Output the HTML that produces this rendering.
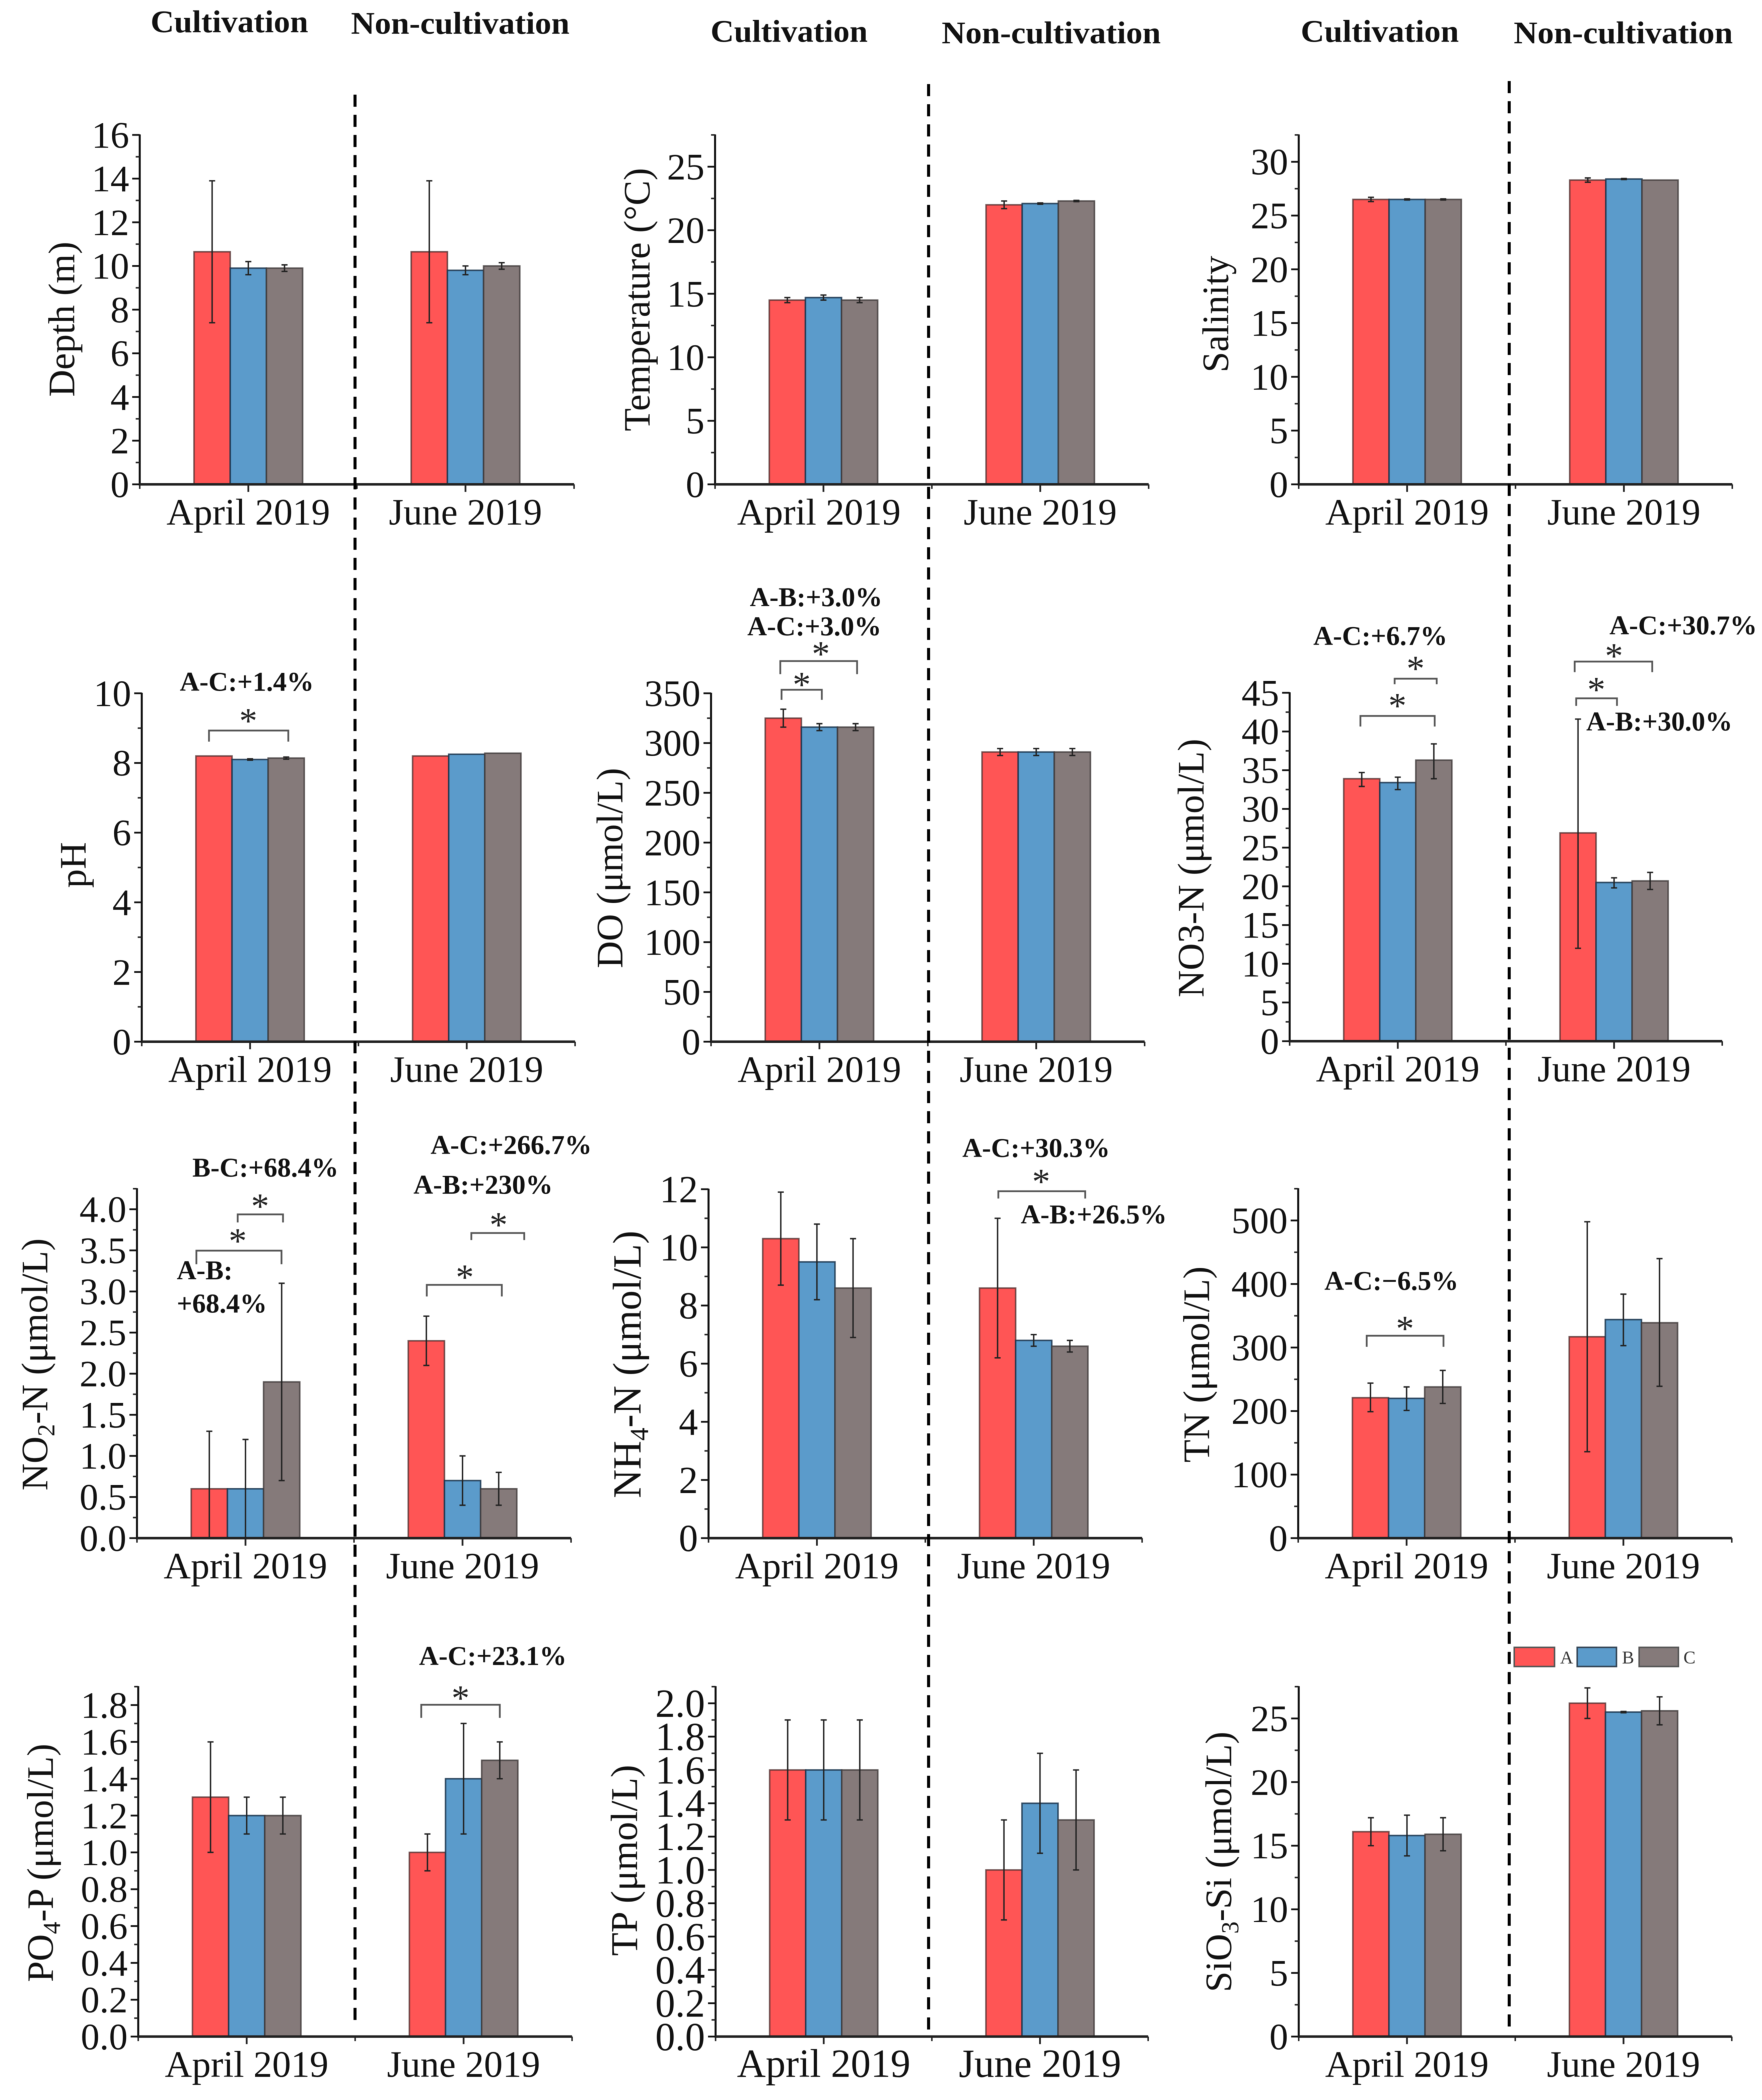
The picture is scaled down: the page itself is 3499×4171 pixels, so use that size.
<!DOCTYPE html>
<html lang="en">
<head>
<meta charset="utf-8">
<title>Water quality parameters by cultivation period</title>
<style>
html,body{margin:0;padding:0;background:#fff;}
body{width:3499px;height:4171px;overflow:hidden;}
svg{display:block;filter:blur(0.9px);}
text{font-family:"Liberation Serif","DejaVu Serif",serif;fill:#111;}
.head{font-weight:bold;font-size:62px;}
.note{font-weight:bold;font-size:54px;}
.title{font-size:74.5px;text-anchor:middle;}
.title-nh4{font-size:79px;}
.title-tp{font-size:75.5px;}
.star{font-size:72px;text-anchor:middle;fill:#222;}
.bracket{fill:none;stroke:#555;stroke-width:3.5;}
.divider{stroke:#000;stroke-width:6;stroke-dasharray:24 16;}
.sub{font-size:49px;}
.sub-nh4{font-size:52px;}
.legend-text{font-size:36px;fill:#333;}
</style>
</head>
<body>
<svg id="figure" xmlns="http://www.w3.org/2000/svg" width="3499" height="4171" viewBox="0 0 3499 4171">
<rect width="3499" height="4171" fill="#fff"/>

<g id="panel-depth">
  <text class="title" transform="rotate(-90 147.5 634)" x="147.5" y="634">Depth (m)</text>
</g>
<g id="panel-temp">
  <text class="title" transform="rotate(-90 1290 595)" x="1290" y="595">Temperature (°C)</text>
</g>
<g id="panel-salinity">
  <text class="title" transform="rotate(-90 2439 624)" x="2439" y="624">Salinity</text>
</g>
<g id="panel-ph">
  <text class="title" transform="rotate(-90 170 1718)" x="170" y="1718">pH</text>
</g>
<g id="panel-do">
  <text class="title" transform="rotate(-90 1236 1724)" x="1236" y="1724">DO (μmol/L)</text>
</g>
<g id="panel-no3">
  <text class="title" transform="rotate(-90 2390 1724)" x="2390" y="1724">NO3-N (μmol/L)</text>
</g>
<g id="panel-no2">
  <text class="title" transform="rotate(-90 94 2710)" x="94" y="2710">NO<tspan class="sub" dy="14">2</tspan><tspan dy="-14">-N (μmol/L)</tspan></text>
</g>
<g id="panel-nh4">
  <text class="title title-nh4" transform="rotate(-90 1272 2710)" x="1272" y="2710">NH<tspan class="sub-nh4" dy="15">4</tspan><tspan dy="-15">-N (μmol/L)</tspan></text>
</g>
<g id="panel-tn">
  <text class="title" transform="rotate(-90 2401 2710)" x="2401" y="2710">TN (μmol/L)</text>
</g>
<g id="panel-po4">
  <text class="title" transform="rotate(-90 105 3700)" x="105" y="3700">PO<tspan class="sub" dy="14">4</tspan><tspan dy="-14">-P (μmol/L)</tspan></text>
</g>
<g id="panel-tp">
  <text class="title title-tp" transform="rotate(-90 1265 3695)" x="1265" y="3695">TP (μmol/L)</text>
</g>
<g id="panel-si">
  <text class="title" transform="rotate(-90 2445 3698)" x="2445" y="3698">SiO<tspan class="sub" dy="14">3</tspan><tspan dy="-14">-Si (μmol/L)</tspan></text>
</g>

<g>
  <line class="divider" x1="705" y1="188" x2="705" y2="4028"/>
  <line class="divider" x1="1844" y1="167" x2="1844" y2="4036"/>
  <line class="divider" x1="2997" y1="161" x2="2997" y2="4030"/>
</g>

<g>
  <text class="head" x="299" y="64" textLength="313" lengthAdjust="spacingAndGlyphs">Cultivation</text>
  <text class="head" x="697" y="67" textLength="434" lengthAdjust="spacingAndGlyphs">Non-cultivation</text>
  <text class="head" x="1411" y="83" textLength="312" lengthAdjust="spacingAndGlyphs">Cultivation</text>
  <text class="head" x="1870" y="86" textLength="435" lengthAdjust="spacingAndGlyphs">Non-cultivation</text>
  <text class="head" x="2583" y="83" textLength="314" lengthAdjust="spacingAndGlyphs">Cultivation</text>
  <text class="head" x="3006" y="86" textLength="435" lengthAdjust="spacingAndGlyphs">Non-cultivation</text>
</g>

<g>
  <text class="note" x="357" y="1372">A-C:+1.4%</text>
  <text class="star" x="493" y="1456">*</text>
  <path class="bracket" d="M415 1473V1451H572.5V1473"/>
</g>
<g>
  <text class="note" x="1489" y="1204">A-B:+3.0%</text>
  <text class="note" x="1484" y="1262">A-C:+3.0%</text>
  <text class="star" x="1630" y="1323">*</text>
  <path class="bracket" d="M1549.5 1339V1313H1702V1339"/>
  <text class="star" x="1592" y="1384">*</text>
  <path class="bracket" d="M1552 1390V1370H1632V1390"/>
</g>
<g>
  <text class="note" x="2608" y="1281">A-C:+6.7%</text>
  <text class="star" x="2811" y="1352">*</text>
  <path class="bracket" d="M2769.5 1359V1348H2853V1359"/>
  <text class="star" x="2775" y="1426">*</text>
  <path class="bracket" d="M2701.5 1443V1422H2849V1443"/>
  <text class="note" x="3196" y="1260">A-C:+30.7%</text>
  <text class="star" x="3205" y="1327">*</text>
  <path class="bracket" d="M3127 1335V1314H3281V1335"/>
  <text class="star" x="3170" y="1394">*</text>
  <path class="bracket" d="M3130 1402V1387H3211V1402"/>
  <text class="note" x="3150" y="1451">A-B:+30.0%</text>
</g>
<g>
  <text class="note" x="382" y="2337">B-C:+68.4%</text>
  <text class="star" x="516.5" y="2420">*</text>
  <path class="bracket" d="M472 2428V2412H562V2428"/>
  <text class="star" x="472" y="2489">*</text>
  <path class="bracket" d="M390 2511V2484H559V2511"/>
  <text class="note" x="351" y="2541">A-B:</text>
  <text class="note" x="351" y="2607">+68.4%</text>
  <text class="note" x="855" y="2292">A-C:+266.7%</text>
  <text class="note" x="821" y="2371">A-B:+230%</text>
  <text class="star" x="990" y="2457">*</text>
  <path class="bracket" d="M936 2463V2449H1041V2463"/>
  <text class="star" x="923" y="2561">*</text>
  <path class="bracket" d="M847.5 2575V2552H996.5V2575"/>
</g>
<g>
  <text class="note" x="1911" y="2298">A-C:+30.3%</text>
  <text class="star" x="2067.5" y="2371">*</text>
  <path class="bracket" d="M1982.5 2380.5V2366H2155V2380.5"/>
  <text class="note" x="2027" y="2430">A-B:+26.5%</text>
</g>
<g>
  <text class="note" x="2630" y="2562">A-C:−6.5%</text>
  <text class="star" x="2790" y="2663">*</text>
  <path class="bracket" d="M2714 2675V2653H2866.5V2675"/>
</g>
<g>
  <text class="note" x="832" y="3307">A-C:+23.1%</text>
  <text class="star" x="914.5" y="3397">*</text>
  <path class="bracket" d="M836.5 3412V3386H992.5V3412"/>
</g>

<g>
  <rect x="3007" y="3272" width="80" height="38" fill="#FF5555" stroke="#555" stroke-width="3"/>
  <text class="legend-text" x="3098" y="3304">A</text>
  <rect x="3132" y="3272" width="78" height="38" fill="#5B9BCB" stroke="#345" stroke-width="3"/>
  <text class="legend-text" x="3221" y="3304">B</text>
  <rect x="3255" y="3272" width="78" height="38" fill="#857A7A" stroke="#555" stroke-width="3"/>
  <text class="legend-text" x="3343" y="3304">C</text>
</g>
</svg>

<script>
const categories = ['April 2019', 'June 2019'];
const seriesNames = ['A', 'B', 'C'];

const depthTickLabels = ['0','2','4','6','8','10','12','14','16'];
const depthMeans = [[10.65, 9.9, 9.9], [10.65, 9.8, 10]];
const depthHighs = [[13.9, 10.2, 10.05], [13.9, 10, 10.15]];
const depthLows = [[7.4, 9.6, 9.75], [7.4, 9.6, 9.85]];

const tempTickLabels = ['0','5','10','15','20','25'];
const tempMeans = [[14.5, 14.7, 14.5], [22, 22.1, 22.3]];
const tempHighs = [[14.7, 14.9, 14.7], [22.3, 22.15, 22.35]];
const tempLows = [[14.3, 14.5, 14.3], [21.7, 22.05, 22.25]];

const salinityTickLabels = ['0','5','10','15','20','25','30'];
const salinityMeans = [[26.5, 26.5, 26.5], [28.3, 28.4, 28.3]];
const salinityHighs = [[26.7, 26.55, 26.55], [28.5, 28.45, 28.3]];
const salinityLows = [[26.3, 26.45, 26.45], [28.1, 28.35, 28.3]];

const phTickLabels = ['0','2','4','6','8','10'];
const phMeans = [[8.2, 8.1, 8.14], [8.2, 8.25, 8.28]];
const phHighs = [[8.2, 8.12, 8.17], [8.2, 8.25, 8.28]];
const phLows = [[8.2, 8.08, 8.11], [8.2, 8.25, 8.28]];

const doTickLabels = ['0','50','100','150','200','250','300','350'];
const doMeans = [[325, 316, 316], [291, 291, 291]];
const doHighs = [[334, 319.5, 319.5], [294.5, 294.5, 294.5]];
const doLows = [[316, 312.5, 312.5], [287.5, 287.5, 287.5]];

const no3TickLabels = ['0','5','10','15','20','25','30','35','40','45'];
const no3Means = [[33.9, 33.4, 36.3], [26.9, 20.5, 20.7]];
const no3Highs = [[34.7, 34.1, 38.4], [41.6, 21.1, 21.8]];
const no3Lows = [[32.9, 32.5, 33.9], [12, 19.8, 19.6]];

const no2TickLabels = ['0.0','0.5','1.0','1.5','2.0','2.5','3.0','3.5','4.0'];
const no2Means = [[0.6, 0.6, 1.9], [2.4, 0.7, 0.6]];
const no2Highs = [[1.3, 1.2, 3.1], [2.7, 1.0, 0.8]];
const no2Lows = [[0, 0, 0.7], [2.1, 0.4, 0.4]];

const nh4TickLabels = ['0','2','4','6','8','10','12'];
const nh4Means = [[10.3, 9.5, 8.6], [8.6, 6.8, 6.6]];
const nh4Highs = [[11.9, 10.8, 10.3], [11, 7, 6.8]];
const nh4Lows = [[8.7, 8.2, 6.9], [6.2, 6.6, 6.4]];

const tnTickLabels = ['0','100','200','300','400','500'];
const tnMeans = [[221, 220, 238], [317, 344, 339]];
const tnHighs = [[244, 238, 264], [498, 384, 440]];
const tnLows = [[199, 201, 212], [136, 303, 239]];

const po4TickLabels = ['0.0','0.2','0.4','0.6','0.8','1.0','1.2','1.4','1.6','1.8'];
const po4Means = [[1.3, 1.2, 1.2], [1.0, 1.4, 1.5]];
const po4Highs = [[1.6, 1.3, 1.3], [1.1, 1.7, 1.6]];
const po4Lows = [[1.0, 1.1, 1.1], [0.9, 1.1, 1.4]];

const tpTickLabels = ['0.0','0.2','0.4','0.6','0.8','1.0','1.2','1.4','1.6','1.8','2.0'];
const tpMeans = [[1.6, 1.6, 1.6], [1.0, 1.4, 1.3]];
const tpHighs = [[1.9, 1.9, 1.9], [1.3, 1.7, 1.6]];
const tpLows = [[1.3, 1.3, 1.3], [0.7, 1.1, 1.0]];

const siTickLabels = ['0','5','10','15','20','25'];
const siMeans = [[16.1, 15.8, 15.9], [26.2, 25.5, 25.6]];
const siHighs = [[17.2, 17.4, 17.2], [27.4, 25.55, 26.7]];
const siLows = [[15, 14.2, 14.6], [25, 25.45, 24.5]];

const seriesFills = ['#FF5555', '#5B9BCB', '#857A7A'];
const seriesStrokes = ['rgba(70,40,40,.75)', 'rgba(25,50,75,.85)', 'rgba(60,55,55,.8)'];

const panels = [
  {key:'depth', left:277.5, right:1140, y0:962, yTop:268, axisMax:16, minor:1, tickSize:74.5, catSize:74.5, catShift:0, tickLabels:depthTickLabels, means:depthMeans, highs:depthHighs, lows:depthLows},
  {key:'temp', left:1420, right:2281, y0:962, yTop:268, axisMax:27.5, minor:2.5, tickSize:74.5, catSize:74.5, catShift:-9, tickLabels:tempTickLabels, means:tempMeans, highs:tempHighs, lows:tempLows},
  {key:'salinity', left:2579, right:3440, y0:962, yTop:268, axisMax:32.5, minor:2.5, tickSize:74.5, catSize:74.5, catShift:0, tickLabels:salinityTickLabels, means:salinityMeans, highs:salinityHighs, lows:salinityLows},
  {key:'ph', left:281.5, right:1142, y0:2069, yTop:1377, axisMax:10, minor:1, tickSize:74.5, catSize:74.5, catShift:0, tickLabels:phTickLabels, means:phMeans, highs:phHighs, lows:phLows},
  {key:'do', left:1412, right:2273, y0:2069, yTop:1377, axisMax:350, minor:25, tickSize:74.5, catSize:74.5, catShift:0, tickLabels:doTickLabels, means:doMeans, highs:doHighs, lows:doLows},
  {key:'no3', left:2561, right:3420, y0:2068, yTop:1376, axisMax:45, minor:2.5, tickSize:74.5, catSize:74.5, catShift:0, tickLabels:no3TickLabels, means:no3Means, highs:no3Highs, lows:no3Lows},
  {key:'no2', left:272, right:1134, y0:3055, yTop:2361, axisMax:4.25, minor:0.25, tickSize:74.5, catSize:74.5, catShift:0, tickLabels:no2TickLabels, means:no2Means, highs:no2Highs, lows:no2Lows},
  {key:'nh4', left:1407, right:2268, y0:3055, yTop:2362, axisMax:12, minor:1, tickSize:76, catSize:74.5, catShift:0, tickLabels:nh4TickLabels, means:nh4Means, highs:nh4Highs, lows:nh4Lows},
  {key:'tn', left:2578, right:3439, y0:3055, yTop:2361, axisMax:550, minor:50, tickSize:74.5, catSize:74.5, catShift:0, tickLabels:tnTickLabels, means:tnMeans, highs:tnHighs, lows:tnLows},
  {key:'po4', left:274.5, right:1136, y0:4045, yTop:3350, axisMax:1.9, minor:0.1, tickSize:74.5, catSize:74.5, catShift:0, tickLabels:po4TickLabels, means:po4Means, highs:po4Highs, lows:po4Lows},
  {key:'tp', left:1421, right:2280, y0:4045, yTop:3350, axisMax:2.1, minor:0.1, tickSize:79, catSize:79, catShift:0, tickLabels:tpTickLabels, means:tpMeans, highs:tpHighs, lows:tpLows},
  {key:'si', left:2579, right:3439, y0:4045, yTop:3350, axisMax:27.5, minor:2.5, tickSize:74.5, catSize:74.5, catShift:0, tickLabels:siTickLabels, means:siMeans, highs:siHighs, lows:siLows}
];

const SVG_NS = 'http://www.w3.org/2000/svg';

function shape(parent, tag, attrs) {
  const el = document.createElementNS(SVG_NS, tag);
  Object.keys(attrs).forEach(function (k) { el.setAttribute(k, attrs[k]); });
  parent.appendChild(el);
  return el;
}

function hairline(parent, x1, y1, x2, y2, width, color) {
  return shape(parent, 'line', {x1: x1, y1: y1, x2: x2, y2: y2, stroke: color, 'stroke-width': width});
}

function drawPanel(p) {
  const g = document.getElementById('panel-' + p.key);
  const yScale = function (v) { return p.y0 - (v / p.axisMax) * (p.y0 - p.yTop); };
  const band = (p.right - p.left) / categories.length;
  const barW = band / 6;
  const center = function (c) { return p.left + band * (c + 0.5); };

  categories.forEach(function (cat, c) {
    seriesNames.forEach(function (s, i) {
      const x = center(c) + (i - 1.5) * barW;
      const v = p.means[c][i];
      const bar = shape(g, 'rect', {x: x, y: yScale(v), width: barW, height: p.y0 - yScale(v), fill: seriesFills[i], stroke: seriesStrokes[i], 'stroke-width': 3});
      
      
    });
  });

  categories.forEach(function (cat, c) {
    seriesNames.forEach(function (s, i) {
      const hi = p.highs[c][i];
      const lo = p.lows[c][i];
      if (hi === lo) return;
      const cx = center(c) + (i - 1) * barW;
      const err = shape(g, 'path', {
        d: 'M' + (cx - 6) + ' ' + yScale(hi) + 'H' + (cx + 6) + 'M' + cx + ' ' + yScale(hi) + 'V' + yScale(lo) + 'M' + (cx - 6) + ' ' + yScale(lo) + 'H' + (cx + 6),
        fill: 'none', stroke: '#222', 'stroke-width': 2.8
      });
      
      
    });
  });

  const yAxis = hairline(g, p.left, p.yTop - 1, p.left, p.y0 + 2, 4, '#111');
  
  
  const xAxis = hairline(g, p.left - 2, p.y0, p.right, p.y0, 5, '#222');
  
  

  const majors = p.tickLabels.map(Number);
  const minorCount = Math.round(p.axisMax / p.minor);
  for (let i = 0; i <= minorCount; i++) {
    const v = i * p.minor;
    if (majors.some(function (m) { return Math.abs(m - v) < 1e-6; })) continue;
    const minorTick = hairline(g, p.left - 8, yScale(v), p.left, yScale(v), 3, '#222');
    
    
  }

  p.tickLabels.forEach(function (label) {
    const v = Number(label);
    const y = yScale(v);
    const tick = hairline(g, p.left - 15, y, p.left, y, 3.5, '#111');
    
    
    const t = shape(g, 'text', {x: p.left - 21, y: y + p.tickSize * 0.34, 'text-anchor': 'end', 'font-size': p.tickSize});
    t.textContent = label;
    
    
  });

  for (let e = 0; e <= categories.length; e++) {
    const x = p.left + band * e;
    const edgeTick = hairline(g, x, p.y0, x, p.y0 + 9, 3, '#222');
    
    
  }

  categories.forEach(function (cat, c) {
    const cx = center(c);
    const tick = hairline(g, cx, p.y0, cx, p.y0 + 15, 3.5, '#222');
    
    
    const shift = c === 0 ? p.catShift : 0;
    const t = shape(g, 'text', {x: cx + shift, y: p.y0 + 80, 'text-anchor': 'middle', 'font-size': p.catSize});
    t.textContent = cat;
    
    
  });
}

panels.forEach(drawPanel);
</script>
</body>
</html>
